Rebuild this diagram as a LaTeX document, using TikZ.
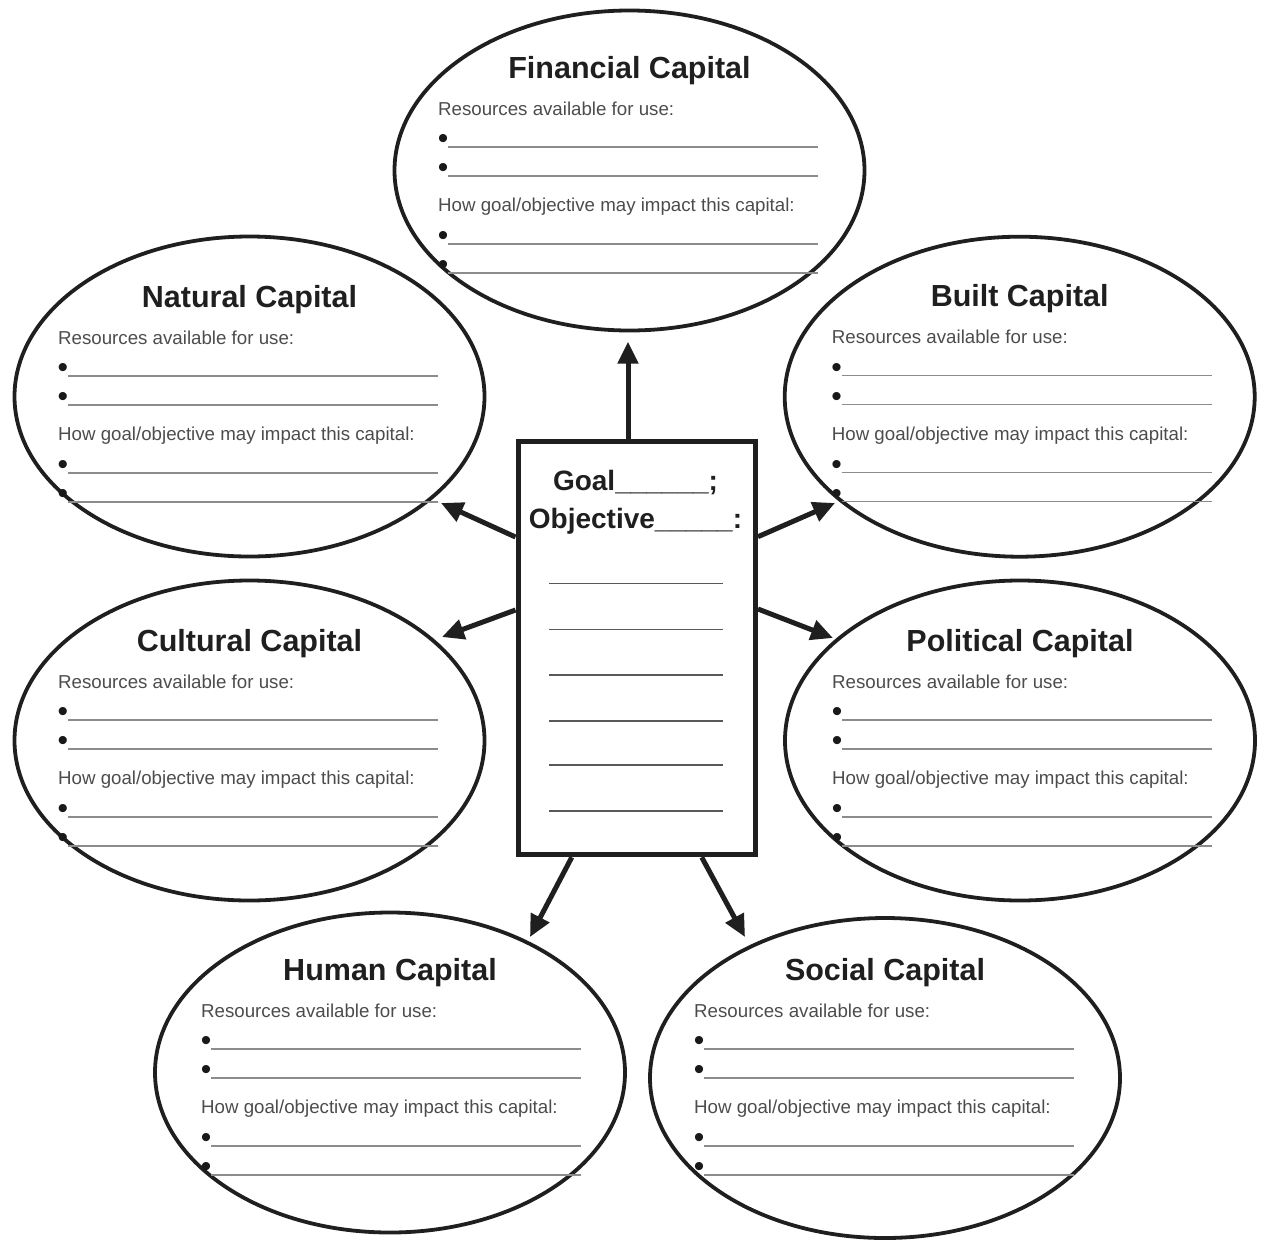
\documentclass[tikz,border=0pt]{standalone}
\usepackage{fontspec}
\setmainfont{Liberation Sans}
\usetikzlibrary{shapes.geometric,arrows.meta}
\tikzset{
 capell/.style={ellipse, draw=black!88, line width=3.8pt, minimum width=470pt, minimum height=320pt, inner sep=0pt},
 captitle/.style={font=\fontsize{30.5}{36}\selectfont\bfseries, text=black!88, inner sep=0pt, anchor=base},
 captext/.style={font=\fontsize{18.7}{22}\selectfont, text=black!70, inner sep=0pt, anchor=base west},
 bul/.style={font=\fontsize{30}{32}\selectfont, text=black!90, inner sep=0pt, anchor=north},
 blank/.style={draw=black!45, line width=1.6pt},
 boxline/.style={draw=black!65, line width=1.6pt},
 goalbox/.style={draw=black!88, line width=5pt, minimum width=237.5pt, minimum height=413pt, inner sep=0pt},
 goaltext/.style={font=\fontsize{28}{34}\selectfont\bfseries, text=black!88, inner sep=0pt, anchor=base},
 arr/.style={draw=black!88, line width=5pt, -{Triangle[length=22pt,width=20pt]}},
}
% #1 name, #2 cx, #3 cy, #4 text left, #5 baseline of first text line, #6 title
\newcommand\capblock[6]{%
 \node[capell] (#1) at (#2,#3) {};
 \node[captitle] (#1t) at ({#2},{#5-37}) {#6};
 \node[captext] (#1r) at ({#4},{#5}) {Resources available for use:};
 \node[captext] (#1h) at ({#4},{#5+96.5}) {How goal/objective may impact this capital:};
 \foreach \dy/\k in {32/a,61/b,129/c,158/d}{
  \node[bul] (#1\k) at ({#4+5},{#5+\dy-12.5}) {•};
  \draw[blank] ({#4+10},{#5+\dy}) -- ({#4+380},{#5+\dy});
 }
}
\begin{document}
\begin{tikzpicture}[x=1pt,y=-1pt]
\useasboundingbox (0,0) rectangle (1261,1240);
\capblock{fin}{629.5}{170.5}{438}{115}{Financial Capital}
\capblock{nat}{249.5}{396.5}{58}{344}{Natural Capital}
\capblock{blt}{1019.7}{396.7}{831.7}{343.5}{Built Capital}
\capblock{cul}{249.5}{740.5}{58}{688}{Cultural Capital}
\capblock{pol}{1020}{740.5}{832}{688}{Political Capital}
\capblock{hum}{390}{1072.5}{201}{1017}{Human Capital}
\capblock{soc}{885}{1078}{694}{1017}{Social Capital}

\node[goalbox] (box) at (636.75,648.3) {};
\node[goaltext] (goal) at (635.5,490) {Goal\_\_\_\_\_\_;};
\node[goaltext] (obj) at (635.5,528) {Objective\_\_\_\_\_:};
\foreach \y in {583.3,629.3,675,721,765,810.7}{
 \draw[boxline] (549.3,\y) -- (722.7,\y);
}

\coordinate (tipF) at (628,341.7);
\coordinate (tipN) at (441,503);
\coordinate (tipC) at (442,637);
\coordinate (tipB) at (835,503);
\coordinate (tipP) at (833,638);
\coordinate (tipH) at (530,937);
\coordinate (tipS) at (745,937);

\draw[arr] ([xshift=-8.75pt]box.north) -- (tipF);
\draw[arr] ([yshift=111.3pt]box.west) -- (tipN);
\draw[arr] ([yshift=38.3pt]box.west) -- (tipC);
\draw[arr] ([yshift=111.6pt]box.east) -- (tipB);
\draw[arr] ([yshift=39.3pt]box.east) -- (tipP);
\draw[arr] ([xshift=-65pt]box.south) -- (tipH);
\draw[arr] ([xshift=65pt]box.south) -- (tipS);
\end{tikzpicture}
\end{document}
